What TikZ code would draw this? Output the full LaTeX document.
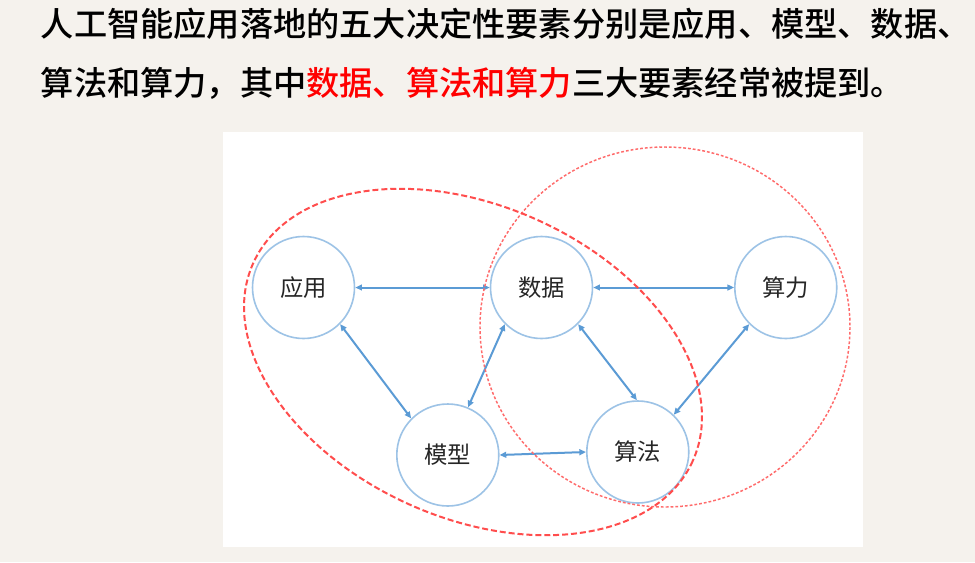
\documentclass[tikz,border=0pt]{standalone}
\usepackage{fontspec}
\usetikzlibrary{arrows.meta}
\newfontfamily\cjk{Noto Sans CJK SC}
\newfontfamily\cjkmed{Noto Sans CJK SC Medium}
\definecolor{bg}{HTML}{F5F2ED}
\definecolor{circblue}{HTML}{9DC3E6}
\definecolor{arrblue}{HTML}{5B9BD5}
\definecolor{redA}{HTML}{FF4D4D}
\definecolor{redB}{HTML}{FF6B6B}
\definecolor{labelc}{HTML}{262626}
\definecolor{hired}{HTML}{FF0000}
\tikzset{
  elem/.style={circle, draw=circblue, line width=1.2pt, minimum size=76.5pt, inner sep=0pt,
    font=\cjk\fontsize{17.5pt}{20pt}\selectfont, text=labelc},
  link/.style={arrblue, line width=1.5pt,
    {Triangle[length=5pt,width=4.4pt]}-{Triangle[length=5pt,width=4.4pt]}},
  titletext/.style={anchor=base west, inner sep=0pt, text=black,
    font=\cjkmed\fontsize{24.9pt}{28pt}\selectfont},
  grpA/.style={draw=redA, line width=1.5pt, dash pattern=on 4.5pt off 2.2pt},
  grpB/.style={draw=redB, line width=1.1pt, dash pattern=on 2.1pt off 1.5pt},
}
\begin{document}
\begin{tikzpicture}[x=0.75pt,y=-0.75pt]
  \useasboundingbox (0,0) rectangle (975,562);
  \fill[bg] (0,0) rectangle (975,562);
  \fill[white] (223,132) rectangle (863,547);

  \node[titletext] (t1) at (40.7,36.5) {人工智能应用落地的五大决定性要素分别是应用、模型、数据、};
  \node[titletext] (t2) at (40.7,95.5) {算法和算力，其中\textcolor{hired}{数据、算法和算力}三大要素经常被提到。};

  \node[elem] (yy) at (303.5,287.5) {应用};
  \node[elem] (sj) at (541.5,287.5) {数据};
  \node[elem] (sl) at (785.8,287.5) {算力};
  \node[elem] (mx) at (447.8,455) {模型};
  \node[elem] (sf) at (637.8,452) {算法};

  \draw[link] (yy.0) -- (sj.180);
  \draw[link] (sj.0) -- (sl.180);
  \draw[link] (yy.315.6) -- (mx.135.4);
  \draw[link] (sj.225.8) -- (mx.67.8);
  \draw[link] (sj.315.8) -- (sf.91);
  \draw[link] (sl.225) -- (sf.46);
  \draw[link] (mx.0) -- (sf.180);

  \draw[grpB] (665,327) ellipse [x radius=185, y radius=180];
  \draw[grpA, rotate around={-24.2:(473,362)}] (473,362) ellipse [x radius=241, y radius=156];
\end{tikzpicture}
\end{document}
